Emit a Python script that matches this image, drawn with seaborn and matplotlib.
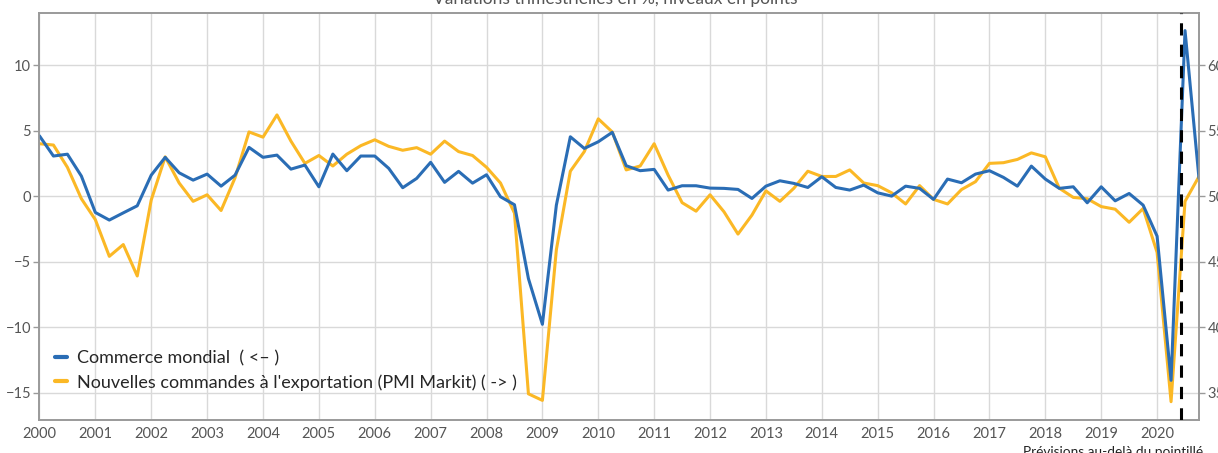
import numpy as np
import pandas as pd
import matplotlib
matplotlib.use("Agg")
import matplotlib.pyplot as plt
import seaborn as sns

# quarterly series, 2000 Q1 -> 2020 Q4
start_year = 2000
commerce = [4.6, 3.06, 3.2, 1.53, -1.25, -1.83, -1.28, -0.74, 1.6, 2.96,
            1.78, 1.22, 1.68, 0.76, 1.6, 3.72, 2.96, 3.13, 2.06, 2.37,
            0.71, 3.21, 1.94, 3.06, 3.06, 2.12, 0.64, 1.35, 2.58, 1.05,
            1.89, 0.99, 1.63, -0.05, -0.66, -6.3, -9.79, -0.69, 4.53, 3.64,
            4.15, 4.87, 2.32, 1.94, 2.04, 0.46, 0.79, 0.79, 0.61, 0.59,
            0.51, -0.18, 0.76, 1.17, 0.97, 0.66, 1.48, 0.66, 0.46, 0.84,
            0.25, 0.0, 0.76, 0.59, -0.25, 1.3, 1.02, 1.68, 1.94, 1.43,
            0.76, 2.29, 1.3, 0.59, 0.71, -0.51, 0.71, -0.36, 0.2, -0.69,
            -3.06, -14.07, 12.64, 1.35]
pmi_export = [54.0, 53.9, 52.2, 49.8, 48.2, 45.4, 46.3, 43.9, 49.7, 53.0,
              51.0, 49.6, 50.1, 48.9, 51.4, 54.9, 54.5, 56.2, 54.2, 52.5,
              53.1, 52.3, 53.2, 53.85, 54.3, 53.8, 53.5, 53.7, 53.2, 54.2,
              53.4, 53.1, 52.2, 51.0, 48.7, 34.9, 34.4, 45.9, 51.9, 53.4,
              55.9, 54.9, 52.0, 52.3, 54.0, 51.6, 49.5, 48.85, 50.1, 48.8,
              47.1, 48.55, 50.4, 49.6, 50.6, 51.9, 51.5, 51.5, 52.0, 51.0,
              50.8, 50.25, 49.4, 50.8, 49.75, 49.4, 50.5, 51.1, 52.5, 52.55,
              52.8, 53.3, 53.0, 50.6, 49.9, 49.8, 49.2, 49.0, 48.0, 49.05,
              45.7, 34.3, 49.6, 51.5]
years = list(range(2000, 2021))
left_ticks = [-15, -10, -5, 0, 5, 10]
right_ticks = [35, 40, 45, 50, 55, 60]
forecast_start = 2020.42

df = pd.DataFrame({
    "t": start_year + np.arange(len(commerce)) / 4,
    "commerce": commerce,
    "pmi": pmi_export,
})

sns.set_theme(style="white")
plt.rcParams["font.family"] = ["Lato", "DejaVu Sans"]

blue = "#2a6db5"
yellow = "#fbb825"
grey_txt = "#555555"
grid_c = "#d9d9d9"

fig = plt.figure(figsize=(12.18, 4.53), dpi=100)
ax = fig.add_axes([0.0324, 0.0728, 0.952, 0.899])
ax2 = ax.twinx()
# blue series drawn above the yellow one
ax.set_zorder(2)
ax2.set_zorder(1)
ax.patch.set_visible(False)
ax2.patch.set_facecolor("white")

sns.lineplot(data=df, x="t", y="commerce", ax=ax, color=blue, lw=2.2,
             label="Commerce mondial  ( <\u2013 )", legend=False)
sns.lineplot(data=df, x="t", y="pmi", ax=ax2, color=yellow, lw=2.2,
             label="Nouvelles commandes à l'exportation (PMI Markit) ( -> )",
             legend=False)

ax.axvline(forecast_start, color="black", lw=2.2, ls=(0, (4, 3)), zorder=5)

ax.set_xlim(2000, 2020.75)
ax.set_ylim(-17.1, 14.0)
ax2.set_ylim(32.9, 64.0)
ax.set_xticks(years)
ax.set_xticklabels([str(y) for y in years])
ax.set_yticks(left_ticks)
ax.set_yticklabels([str(v).replace("-", "\u2212") for v in left_ticks])
ax2.set_yticks(right_ticks)
ax.set_xlabel("")
ax.set_ylabel("")
ax2.set_ylabel("")

# grid sits on the back axes so that both lines cover it
for v in left_ticks:
    ax2.axhline(v + 50, color=grid_c, lw=1.0, zorder=0)
for x in years:
    ax2.axvline(x, color=grid_c, lw=1.0, zorder=0)

for a in (ax, ax2):
    for s in a.spines.values():
        s.set_color("#9a9a9a")
        s.set_linewidth(1.2)
    a.tick_params(labelsize=10.5, colors=grey_txt, length=4, width=1,
                  color="#9a9a9a")
ax.tick_params(axis="x", length=0, pad=5)
ax.tick_params(axis="y", pad=2)
ax2.tick_params(axis="y", pad=2)

h1, l1 = ax.get_legend_handles_labels()
h2, l2 = ax2.get_legend_handles_labels()
leg = ax.legend(h1 + h2, l1 + l2, loc="lower left",
                bbox_to_anchor=(0.007, 0.054), frameon=False, fontsize=13,
                handlelength=0.67, handletextpad=0.55, labelspacing=0.42,
                borderaxespad=0)
for line in leg.get_lines():
    line.set_linewidth(3)

fig.text(0.505, 1.003, "Variations trimestrielles en %, niveaux en points",
         ha="center", va="center", fontsize=12.5, color=grey_txt)
fig.text(0.988, -0.012, "Prévisions au-delà du pointillé",
         ha="right", va="bottom", fontsize=9.8, color="#222222")

fig.savefig("out.png", dpi=100)
